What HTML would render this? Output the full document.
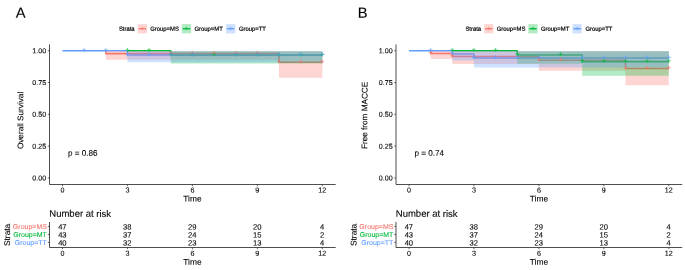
<!DOCTYPE html>
<html lang="en">
<head>
<meta charset="utf-8">
<title>Kaplan-Meier survival curves</title>
<style>
html,body{margin:0;padding:0;background:#fff;}
body{width:685px;height:270px;overflow:hidden;}
svg{display:block;font-family:'Liberation Sans', Arial, Helvetica, sans-serif;filter:blur(0.3px);}
</style>
</head>
<body>
<svg width="685" height="270" viewBox="0 0 685 270">
<rect width="685" height="270" fill="#fff"/>
<g id="panelA">
<text transform="translate(15.7 17.85) rotate(0.1)" font-size="14.7" fill="#000" stroke="#000" stroke-width="0.1">A</text>
<text transform="translate(118.9 30.8) rotate(0.1)" font-size="5.9" fill="#000" stroke="#000" stroke-width="0.2">Strata</text>
<rect x="137.7" y="24.1" width="9.3" height="9.3" fill="#F8766D" fill-opacity="0.3"/>
<path d="M138.6 28.75H146.1" stroke="#F8766D" stroke-width="1.3"/>
<path d="M140.55 28.35H144.15M142.35 26.55V30.15" stroke="#F8766D" stroke-width="0.55" fill="none"/>
<text transform="translate(150.2 30.8) rotate(0.1)" font-size="5.9" fill="#000" stroke="#000" stroke-width="0.2">Group=MS</text>
<rect x="181.8" y="24.1" width="9.3" height="9.3" fill="#00BA38" fill-opacity="0.3"/>
<path d="M182.7 28.75H190.2" stroke="#00BA38" stroke-width="1.3"/>
<path d="M184.65 28.35H188.25M186.45 26.55V30.15" stroke="#00BA38" stroke-width="0.55" fill="none"/>
<text transform="translate(194.5 30.8) rotate(0.1)" font-size="5.9" fill="#000" stroke="#000" stroke-width="0.2">Group=MT</text>
<rect x="226" y="24.1" width="9.3" height="9.3" fill="#619CFF" fill-opacity="0.3"/>
<path d="M226.9 28.75H234.4" stroke="#619CFF" stroke-width="1.3"/>
<path d="M228.85 28.35H232.45M230.65 26.55V30.15" stroke="#619CFF" stroke-width="0.55" fill="none"/>
<text transform="translate(238.9 30.8) rotate(0.1)" font-size="5.9" fill="#000" stroke="#000" stroke-width="0.2">Group=TT</text>
<path d="M105.15 50.75H105.8V53.61H279V62.19H322.3" stroke="#F8766D" stroke-width="1.55" fill="none" stroke-linejoin="round"/>
<path d="M127.45 50.75H170.75V55.26H322.3" stroke="#00BA38" stroke-width="1.55" fill="none" stroke-linejoin="round"/>
<path d="M62.5 50.75H127.45V55.01H322.3" stroke="#619CFF" stroke-width="1.55" fill="none" stroke-linejoin="round"/>
<path d="M105.8 51.35H322.3V77.8H279V59.74H105.8Z" fill="#F8766D" fill-opacity="0.3"/>
<path d="M170.75 51.35H322.3V63.43H170.75Z" fill="#00BA38" fill-opacity="0.3"/>
<path d="M127.45 51.35H322.3V62.16H127.45Z" fill="#619CFF" fill-opacity="0.3"/>
<path d="M168.75 52.81H172.75M170.75 50.81V54.81" stroke="#F8766D" stroke-width="0.62" fill="none"/>
<path d="M190.4 52.81H194.4M192.4 50.81V54.81" stroke="#F8766D" stroke-width="0.62" fill="none"/>
<path d="M212.05 52.81H216.05M214.05 50.81V54.81" stroke="#F8766D" stroke-width="0.62" fill="none"/>
<path d="M233.7 52.81H237.7M235.7 50.81V54.81" stroke="#F8766D" stroke-width="0.62" fill="none"/>
<path d="M255.35 52.81H259.35M257.35 50.81V54.81" stroke="#F8766D" stroke-width="0.62" fill="none"/>
<path d="M277 61.39H281M279 59.39V63.39" stroke="#F8766D" stroke-width="0.62" fill="none"/>
<path d="M298.65 61.39H302.65M300.65 59.39V63.39" stroke="#F8766D" stroke-width="0.62" fill="none"/>
<path d="M320.3 61.39H324.3M322.3 59.39V63.39" stroke="#F8766D" stroke-width="0.62" fill="none"/>
<path d="M125.45 49.95H129.45M127.45 47.95V51.95" stroke="#00BA38" stroke-width="0.62" fill="none"/>
<path d="M147.1 49.95H151.1M149.1 47.95V51.95" stroke="#00BA38" stroke-width="0.62" fill="none"/>
<path d="M168.75 54.46H172.75M170.75 52.46V56.46" stroke="#00BA38" stroke-width="0.62" fill="none"/>
<path d="M190.4 54.46H194.4M192.4 52.46V56.46" stroke="#00BA38" stroke-width="0.62" fill="none"/>
<path d="M212.05 54.46H216.05M214.05 52.46V56.46" stroke="#00BA38" stroke-width="0.62" fill="none"/>
<path d="M233.7 54.46H237.7M235.7 52.46V56.46" stroke="#00BA38" stroke-width="0.62" fill="none"/>
<path d="M255.35 54.46H259.35M257.35 52.46V56.46" stroke="#00BA38" stroke-width="0.62" fill="none"/>
<path d="M277 54.46H281M279 52.46V56.46" stroke="#00BA38" stroke-width="0.62" fill="none"/>
<path d="M298.65 54.46H302.65M300.65 52.46V56.46" stroke="#00BA38" stroke-width="0.62" fill="none"/>
<path d="M320.3 54.46H324.3M322.3 52.46V56.46" stroke="#00BA38" stroke-width="0.62" fill="none"/>
<path d="M82.15 49.95H86.15M84.15 47.95V51.95" stroke="#619CFF" stroke-width="0.62" fill="none"/>
<path d="M103.8 49.95H107.8M105.8 47.95V51.95" stroke="#619CFF" stroke-width="0.62" fill="none"/>
<path d="M125.45 54.21H129.45M127.45 52.21V56.21" stroke="#619CFF" stroke-width="0.62" fill="none"/>
<path d="M147.1 54.21H151.1M149.1 52.21V56.21" stroke="#619CFF" stroke-width="0.62" fill="none"/>
<path d="M168.75 54.21H172.75M170.75 52.21V56.21" stroke="#619CFF" stroke-width="0.62" fill="none"/>
<path d="M190.4 54.21H194.4M192.4 52.21V56.21" stroke="#619CFF" stroke-width="0.62" fill="none"/>
<path d="M233.7 54.21H237.7M235.7 52.21V56.21" stroke="#619CFF" stroke-width="0.62" fill="none"/>
<path d="M255.35 54.21H259.35M257.35 52.21V56.21" stroke="#619CFF" stroke-width="0.62" fill="none"/>
<path d="M277 54.21H281M279 52.21V56.21" stroke="#619CFF" stroke-width="0.62" fill="none"/>
<path d="M298.65 54.21H302.65M300.65 52.21V56.21" stroke="#619CFF" stroke-width="0.62" fill="none"/>
<path d="M320.3 54.21H324.3M322.3 52.21V56.21" stroke="#619CFF" stroke-width="0.62" fill="none"/>
<path d="M49.5 44.9V184.5H335.2" stroke="#222" stroke-width="0.8" fill="none" stroke-linecap="square"/>
<path d="M47.8 177.9H49.5" stroke="#333" stroke-width="0.75"/>
<text transform="translate(46.2 180.45) rotate(0.1)" font-size="7.15" fill="#000" text-anchor="end" stroke="#000" stroke-width="0.1">0.00</text>
<path d="M47.8 146.11H49.5" stroke="#333" stroke-width="0.75"/>
<text transform="translate(46.2 148.66) rotate(0.1)" font-size="7.15" fill="#000" text-anchor="end" stroke="#000" stroke-width="0.1">0.25</text>
<path d="M47.8 114.33H49.5" stroke="#333" stroke-width="0.75"/>
<text transform="translate(46.2 116.88) rotate(0.1)" font-size="7.15" fill="#000" text-anchor="end" stroke="#000" stroke-width="0.1">0.50</text>
<path d="M47.8 82.54H49.5" stroke="#333" stroke-width="0.75"/>
<text transform="translate(46.2 85.09) rotate(0.1)" font-size="7.15" fill="#000" text-anchor="end" stroke="#000" stroke-width="0.1">0.75</text>
<path d="M47.8 50.75H49.5" stroke="#333" stroke-width="0.75"/>
<text transform="translate(46.2 53.3) rotate(0.1)" font-size="7.15" fill="#000" text-anchor="end" stroke="#000" stroke-width="0.1">1.00</text>
<path d="M62.5 184.5V186.2" stroke="#333" stroke-width="0.75"/>
<text transform="translate(62.5 192.5) rotate(0.1)" font-size="7.15" fill="#000" text-anchor="middle" stroke="#000" stroke-width="0.1">0</text>
<path d="M127.45 184.5V186.2" stroke="#333" stroke-width="0.75"/>
<text transform="translate(127.45 192.5) rotate(0.1)" font-size="7.15" fill="#000" text-anchor="middle" stroke="#000" stroke-width="0.1">3</text>
<path d="M192.4 184.5V186.2" stroke="#333" stroke-width="0.75"/>
<text transform="translate(192.4 192.5) rotate(0.1)" font-size="7.15" fill="#000" text-anchor="middle" stroke="#000" stroke-width="0.1">6</text>
<path d="M257.35 184.5V186.2" stroke="#333" stroke-width="0.75"/>
<text transform="translate(257.35 192.5) rotate(0.1)" font-size="7.15" fill="#000" text-anchor="middle" stroke="#000" stroke-width="0.1">9</text>
<path d="M322.3 184.5V186.2" stroke="#333" stroke-width="0.75"/>
<text transform="translate(322.3 192.5) rotate(0.1)" font-size="7.15" fill="#000" text-anchor="middle" stroke="#000" stroke-width="0.1">12</text>
<text transform="translate(192.4 201.6) rotate(0.1)" font-size="8.4" fill="#000" text-anchor="middle" stroke="#000" stroke-width="0.1">Time</text>
<text transform="translate(23.15 149.1) rotate(-89.9)" font-size="8.2" fill="#000" stroke="#000" stroke-width="0.1">Overall Survival</text>
<text transform="translate(67.9 155.7) rotate(0.1)" font-size="8.15" fill="#000" stroke="#000" stroke-width="0.1">p = 0.86</text>
<text transform="translate(49.3 216.8) rotate(0.1)" font-size="9.5" fill="#000" stroke="#000" stroke-width="0.1">Number at risk</text>
<path d="M49.5 222.5V247.5H335.2" stroke="#222" stroke-width="0.8" fill="none" stroke-linecap="square"/>
<path d="M47.8 226.4H49.5" stroke="#333" stroke-width="0.75"/>
<text transform="translate(46.9 229) rotate(0.1)" font-size="7.0" fill="#F8766D" text-anchor="end" stroke="#F8766D" stroke-width="0.1">Group=MS</text>
<text transform="translate(62.35 229.5) rotate(0.1)" font-size="7.6" fill="#000" text-anchor="middle" stroke="#000" stroke-width="0.1">47</text>
<text transform="translate(127.3 229.5) rotate(0.1)" font-size="7.6" fill="#000" text-anchor="middle" stroke="#000" stroke-width="0.1">38</text>
<text transform="translate(192.25 229.5) rotate(0.1)" font-size="7.6" fill="#000" text-anchor="middle" stroke="#000" stroke-width="0.1">29</text>
<text transform="translate(257.2 229.5) rotate(0.1)" font-size="7.6" fill="#000" text-anchor="middle" stroke="#000" stroke-width="0.1">20</text>
<text transform="translate(322.15 229.5) rotate(0.1)" font-size="7.6" fill="#000" text-anchor="middle" stroke="#000" stroke-width="0.1">4</text>
<path d="M47.8 234.4H49.5" stroke="#333" stroke-width="0.75"/>
<text transform="translate(46.9 237) rotate(0.1)" font-size="7.0" fill="#00BA38" text-anchor="end" stroke="#00BA38" stroke-width="0.1">Group=MT</text>
<text transform="translate(62.35 237.5) rotate(0.1)" font-size="7.6" fill="#000" text-anchor="middle" stroke="#000" stroke-width="0.1">43</text>
<text transform="translate(127.3 237.5) rotate(0.1)" font-size="7.6" fill="#000" text-anchor="middle" stroke="#000" stroke-width="0.1">37</text>
<text transform="translate(192.25 237.5) rotate(0.1)" font-size="7.6" fill="#000" text-anchor="middle" stroke="#000" stroke-width="0.1">24</text>
<text transform="translate(257.2 237.5) rotate(0.1)" font-size="7.6" fill="#000" text-anchor="middle" stroke="#000" stroke-width="0.1">15</text>
<text transform="translate(322.15 237.5) rotate(0.1)" font-size="7.6" fill="#000" text-anchor="middle" stroke="#000" stroke-width="0.1">2</text>
<path d="M47.8 242.4H49.5" stroke="#333" stroke-width="0.75"/>
<text transform="translate(46.9 245) rotate(0.1)" font-size="7.0" fill="#619CFF" text-anchor="end" stroke="#619CFF" stroke-width="0.1">Group=TT</text>
<text transform="translate(62.35 245.5) rotate(0.1)" font-size="7.6" fill="#000" text-anchor="middle" stroke="#000" stroke-width="0.1">40</text>
<text transform="translate(127.3 245.5) rotate(0.1)" font-size="7.6" fill="#000" text-anchor="middle" stroke="#000" stroke-width="0.1">32</text>
<text transform="translate(192.25 245.5) rotate(0.1)" font-size="7.6" fill="#000" text-anchor="middle" stroke="#000" stroke-width="0.1">23</text>
<text transform="translate(257.2 245.5) rotate(0.1)" font-size="7.6" fill="#000" text-anchor="middle" stroke="#000" stroke-width="0.1">13</text>
<text transform="translate(322.15 245.5) rotate(0.1)" font-size="7.6" fill="#000" text-anchor="middle" stroke="#000" stroke-width="0.1">4</text>
<path d="M62.5 247.5V249.2" stroke="#333" stroke-width="0.75"/>
<text transform="translate(62.5 255.7) rotate(0.1)" font-size="7.15" fill="#000" text-anchor="middle" stroke="#000" stroke-width="0.1">0</text>
<path d="M127.45 247.5V249.2" stroke="#333" stroke-width="0.75"/>
<text transform="translate(127.45 255.7) rotate(0.1)" font-size="7.15" fill="#000" text-anchor="middle" stroke="#000" stroke-width="0.1">3</text>
<path d="M192.4 247.5V249.2" stroke="#333" stroke-width="0.75"/>
<text transform="translate(192.4 255.7) rotate(0.1)" font-size="7.15" fill="#000" text-anchor="middle" stroke="#000" stroke-width="0.1">6</text>
<path d="M257.35 247.5V249.2" stroke="#333" stroke-width="0.75"/>
<text transform="translate(257.35 255.7) rotate(0.1)" font-size="7.15" fill="#000" text-anchor="middle" stroke="#000" stroke-width="0.1">9</text>
<path d="M322.3 247.5V249.2" stroke="#333" stroke-width="0.75"/>
<text transform="translate(322.3 255.7) rotate(0.1)" font-size="7.15" fill="#000" text-anchor="middle" stroke="#000" stroke-width="0.1">12</text>
<text transform="translate(192.4 264.8) rotate(0.1)" font-size="8.4" fill="#000" text-anchor="middle" stroke="#000" stroke-width="0.1">Time</text>
<text transform="translate(9.9 234.9) rotate(-89.9)" font-size="8.4" fill="#000" text-anchor="middle" stroke="#000" stroke-width="0.1">Strata</text>
</g>
<g id="panelB">
<text transform="translate(357.8 17.85) rotate(0.1)" font-size="14.7" fill="#000" stroke="#000" stroke-width="0.1">B</text>
<text transform="translate(465.4 30.8) rotate(0.1)" font-size="5.9" fill="#000" stroke="#000" stroke-width="0.2">Strata</text>
<rect x="484.2" y="24.1" width="9.3" height="9.3" fill="#F8766D" fill-opacity="0.3"/>
<path d="M485.1 28.75H492.6" stroke="#F8766D" stroke-width="1.3"/>
<path d="M487.05 28.35H490.65M488.85 26.55V30.15" stroke="#F8766D" stroke-width="0.55" fill="none"/>
<text transform="translate(496.7 30.8) rotate(0.1)" font-size="5.9" fill="#000" stroke="#000" stroke-width="0.2">Group=MS</text>
<rect x="528.3" y="24.1" width="9.3" height="9.3" fill="#00BA38" fill-opacity="0.3"/>
<path d="M529.2 28.75H536.7" stroke="#00BA38" stroke-width="1.3"/>
<path d="M531.15 28.35H534.75M532.95 26.55V30.15" stroke="#00BA38" stroke-width="0.55" fill="none"/>
<text transform="translate(541 30.8) rotate(0.1)" font-size="5.9" fill="#000" stroke="#000" stroke-width="0.2">Group=MT</text>
<rect x="572.5" y="24.1" width="9.3" height="9.3" fill="#619CFF" fill-opacity="0.3"/>
<path d="M573.4 28.75H580.9" stroke="#619CFF" stroke-width="1.3"/>
<path d="M575.35 28.35H578.95M577.15 26.55V30.15" stroke="#619CFF" stroke-width="0.55" fill="none"/>
<text transform="translate(585.4 30.8) rotate(0.1)" font-size="5.9" fill="#000" stroke="#000" stroke-width="0.2">Group=TT</text>
<path d="M430 50.75H430.65V53.42H452.3V56.47H538.9V60.16H625.5V68.49H668.8" stroke="#F8766D" stroke-width="1.55" fill="none" stroke-linejoin="round"/>
<path d="M452.3 50.75H517.25V54.95H582.2V61.62H668.8" stroke="#00BA38" stroke-width="1.55" fill="none" stroke-linejoin="round"/>
<path d="M409 50.75H452.3V53.93H473.95V58.06H668.8" stroke="#619CFF" stroke-width="1.55" fill="none" stroke-linejoin="round"/>
<path d="M430.65 51.35H668.8V85.3H625.5V70.68H538.9V64.06H452.3V58.98H430.65Z" fill="#F8766D" fill-opacity="0.3"/>
<path d="M517.25 51.35H668.8V75.64H582.2V63.68H517.25Z" fill="#00BA38" fill-opacity="0.3"/>
<path d="M452.3 51.35H668.8V67.5H473.95V60.5H452.3Z" fill="#619CFF" fill-opacity="0.3"/>
<path d="M428.65 52.62H432.65M430.65 50.62V54.62" stroke="#F8766D" stroke-width="0.62" fill="none"/>
<path d="M450.3 55.67H454.3M452.3 53.67V57.67" stroke="#F8766D" stroke-width="0.62" fill="none"/>
<path d="M536.9 59.36H540.9M538.9 57.36V61.36" stroke="#F8766D" stroke-width="0.62" fill="none"/>
<path d="M558.55 59.36H562.55M560.55 57.36V61.36" stroke="#F8766D" stroke-width="0.62" fill="none"/>
<path d="M623.5 67.69H627.5M625.5 65.69V69.69" stroke="#F8766D" stroke-width="0.62" fill="none"/>
<path d="M645.15 67.69H649.15M647.15 65.69V69.69" stroke="#F8766D" stroke-width="0.62" fill="none"/>
<path d="M666.8 67.69H670.8M668.8 65.69V69.69" stroke="#F8766D" stroke-width="0.62" fill="none"/>
<path d="M450.3 49.95H454.3M452.3 47.95V51.95" stroke="#00BA38" stroke-width="0.62" fill="none"/>
<path d="M471.95 49.95H475.95M473.95 47.95V51.95" stroke="#00BA38" stroke-width="0.62" fill="none"/>
<path d="M493.6 49.95H497.6M495.6 47.95V51.95" stroke="#00BA38" stroke-width="0.62" fill="none"/>
<path d="M515.25 54.15H519.25M517.25 52.15V56.15" stroke="#00BA38" stroke-width="0.62" fill="none"/>
<path d="M558.55 54.15H562.55M560.55 52.15V56.15" stroke="#00BA38" stroke-width="0.62" fill="none"/>
<path d="M580.2 60.82H584.2M582.2 58.82V62.82" stroke="#00BA38" stroke-width="0.62" fill="none"/>
<path d="M601.85 60.82H605.85M603.85 58.82V62.82" stroke="#00BA38" stroke-width="0.62" fill="none"/>
<path d="M623.5 60.82H627.5M625.5 58.82V62.82" stroke="#00BA38" stroke-width="0.62" fill="none"/>
<path d="M645.15 60.82H649.15M647.15 58.82V62.82" stroke="#00BA38" stroke-width="0.62" fill="none"/>
<path d="M666.8 60.82H670.8M668.8 58.82V62.82" stroke="#00BA38" stroke-width="0.62" fill="none"/>
<path d="M428.65 49.95H432.65M430.65 47.95V51.95" stroke="#619CFF" stroke-width="0.62" fill="none"/>
<path d="M450.3 53.13H454.3M452.3 51.13V55.13" stroke="#619CFF" stroke-width="0.62" fill="none"/>
<path d="M471.95 57.26H475.95M473.95 55.26V59.26" stroke="#619CFF" stroke-width="0.62" fill="none"/>
<path d="M493.6 57.26H497.6M495.6 55.26V59.26" stroke="#619CFF" stroke-width="0.62" fill="none"/>
<path d="M515.25 57.26H519.25M517.25 55.26V59.26" stroke="#619CFF" stroke-width="0.62" fill="none"/>
<path d="M536.9 57.26H540.9M538.9 55.26V59.26" stroke="#619CFF" stroke-width="0.62" fill="none"/>
<path d="M580.2 57.26H584.2M582.2 55.26V59.26" stroke="#619CFF" stroke-width="0.62" fill="none"/>
<path d="M601.85 57.26H605.85M603.85 55.26V59.26" stroke="#619CFF" stroke-width="0.62" fill="none"/>
<path d="M623.5 57.26H627.5M625.5 55.26V59.26" stroke="#619CFF" stroke-width="0.62" fill="none"/>
<path d="M645.15 57.26H649.15M647.15 55.26V59.26" stroke="#619CFF" stroke-width="0.62" fill="none"/>
<path d="M666.8 57.26H670.8M668.8 55.26V59.26" stroke="#619CFF" stroke-width="0.62" fill="none"/>
<path d="M396 44.9V184.5H681.7" stroke="#222" stroke-width="0.8" fill="none" stroke-linecap="square"/>
<path d="M394.3 177.9H396" stroke="#333" stroke-width="0.75"/>
<text transform="translate(392.7 180.45) rotate(0.1)" font-size="7.15" fill="#000" text-anchor="end" stroke="#000" stroke-width="0.1">0.00</text>
<path d="M394.3 146.11H396" stroke="#333" stroke-width="0.75"/>
<text transform="translate(392.7 148.66) rotate(0.1)" font-size="7.15" fill="#000" text-anchor="end" stroke="#000" stroke-width="0.1">0.25</text>
<path d="M394.3 114.33H396" stroke="#333" stroke-width="0.75"/>
<text transform="translate(392.7 116.88) rotate(0.1)" font-size="7.15" fill="#000" text-anchor="end" stroke="#000" stroke-width="0.1">0.50</text>
<path d="M394.3 82.54H396" stroke="#333" stroke-width="0.75"/>
<text transform="translate(392.7 85.09) rotate(0.1)" font-size="7.15" fill="#000" text-anchor="end" stroke="#000" stroke-width="0.1">0.75</text>
<path d="M394.3 50.75H396" stroke="#333" stroke-width="0.75"/>
<text transform="translate(392.7 53.3) rotate(0.1)" font-size="7.15" fill="#000" text-anchor="end" stroke="#000" stroke-width="0.1">1.00</text>
<path d="M409 184.5V186.2" stroke="#333" stroke-width="0.75"/>
<text transform="translate(409 192.5) rotate(0.1)" font-size="7.15" fill="#000" text-anchor="middle" stroke="#000" stroke-width="0.1">0</text>
<path d="M473.95 184.5V186.2" stroke="#333" stroke-width="0.75"/>
<text transform="translate(473.95 192.5) rotate(0.1)" font-size="7.15" fill="#000" text-anchor="middle" stroke="#000" stroke-width="0.1">3</text>
<path d="M538.9 184.5V186.2" stroke="#333" stroke-width="0.75"/>
<text transform="translate(538.9 192.5) rotate(0.1)" font-size="7.15" fill="#000" text-anchor="middle" stroke="#000" stroke-width="0.1">6</text>
<path d="M603.85 184.5V186.2" stroke="#333" stroke-width="0.75"/>
<text transform="translate(603.85 192.5) rotate(0.1)" font-size="7.15" fill="#000" text-anchor="middle" stroke="#000" stroke-width="0.1">9</text>
<path d="M668.8 184.5V186.2" stroke="#333" stroke-width="0.75"/>
<text transform="translate(668.8 192.5) rotate(0.1)" font-size="7.15" fill="#000" text-anchor="middle" stroke="#000" stroke-width="0.1">12</text>
<text transform="translate(538.9 201.6) rotate(0.1)" font-size="8.4" fill="#000" text-anchor="middle" stroke="#000" stroke-width="0.1">Time</text>
<text transform="translate(367.3 149.1) rotate(-89.9)" font-size="8.2" fill="#000" stroke="#000" stroke-width="0.1">Free from MACCE</text>
<text transform="translate(414.4 155.7) rotate(0.1)" font-size="8.15" fill="#000" stroke="#000" stroke-width="0.1">p = 0.74</text>
<text transform="translate(395.8 216.8) rotate(0.1)" font-size="9.5" fill="#000" stroke="#000" stroke-width="0.1">Number at risk</text>
<path d="M396 222.5V247.5H681.7" stroke="#222" stroke-width="0.8" fill="none" stroke-linecap="square"/>
<path d="M394.3 226.4H396" stroke="#333" stroke-width="0.75"/>
<text transform="translate(393.4 229) rotate(0.1)" font-size="7.0" fill="#F8766D" text-anchor="end" stroke="#F8766D" stroke-width="0.1">Group=MS</text>
<text transform="translate(408.85 229.5) rotate(0.1)" font-size="7.6" fill="#000" text-anchor="middle" stroke="#000" stroke-width="0.1">47</text>
<text transform="translate(473.8 229.5) rotate(0.1)" font-size="7.6" fill="#000" text-anchor="middle" stroke="#000" stroke-width="0.1">38</text>
<text transform="translate(538.75 229.5) rotate(0.1)" font-size="7.6" fill="#000" text-anchor="middle" stroke="#000" stroke-width="0.1">29</text>
<text transform="translate(603.7 229.5) rotate(0.1)" font-size="7.6" fill="#000" text-anchor="middle" stroke="#000" stroke-width="0.1">20</text>
<text transform="translate(668.65 229.5) rotate(0.1)" font-size="7.6" fill="#000" text-anchor="middle" stroke="#000" stroke-width="0.1">4</text>
<path d="M394.3 234.4H396" stroke="#333" stroke-width="0.75"/>
<text transform="translate(393.4 237) rotate(0.1)" font-size="7.0" fill="#00BA38" text-anchor="end" stroke="#00BA38" stroke-width="0.1">Group=MT</text>
<text transform="translate(408.85 237.5) rotate(0.1)" font-size="7.6" fill="#000" text-anchor="middle" stroke="#000" stroke-width="0.1">43</text>
<text transform="translate(473.8 237.5) rotate(0.1)" font-size="7.6" fill="#000" text-anchor="middle" stroke="#000" stroke-width="0.1">37</text>
<text transform="translate(538.75 237.5) rotate(0.1)" font-size="7.6" fill="#000" text-anchor="middle" stroke="#000" stroke-width="0.1">24</text>
<text transform="translate(603.7 237.5) rotate(0.1)" font-size="7.6" fill="#000" text-anchor="middle" stroke="#000" stroke-width="0.1">15</text>
<text transform="translate(668.65 237.5) rotate(0.1)" font-size="7.6" fill="#000" text-anchor="middle" stroke="#000" stroke-width="0.1">2</text>
<path d="M394.3 242.4H396" stroke="#333" stroke-width="0.75"/>
<text transform="translate(393.4 245) rotate(0.1)" font-size="7.0" fill="#619CFF" text-anchor="end" stroke="#619CFF" stroke-width="0.1">Group=TT</text>
<text transform="translate(408.85 245.5) rotate(0.1)" font-size="7.6" fill="#000" text-anchor="middle" stroke="#000" stroke-width="0.1">40</text>
<text transform="translate(473.8 245.5) rotate(0.1)" font-size="7.6" fill="#000" text-anchor="middle" stroke="#000" stroke-width="0.1">32</text>
<text transform="translate(538.75 245.5) rotate(0.1)" font-size="7.6" fill="#000" text-anchor="middle" stroke="#000" stroke-width="0.1">23</text>
<text transform="translate(603.7 245.5) rotate(0.1)" font-size="7.6" fill="#000" text-anchor="middle" stroke="#000" stroke-width="0.1">13</text>
<text transform="translate(668.65 245.5) rotate(0.1)" font-size="7.6" fill="#000" text-anchor="middle" stroke="#000" stroke-width="0.1">4</text>
<path d="M409 247.5V249.2" stroke="#333" stroke-width="0.75"/>
<text transform="translate(409 255.7) rotate(0.1)" font-size="7.15" fill="#000" text-anchor="middle" stroke="#000" stroke-width="0.1">0</text>
<path d="M473.95 247.5V249.2" stroke="#333" stroke-width="0.75"/>
<text transform="translate(473.95 255.7) rotate(0.1)" font-size="7.15" fill="#000" text-anchor="middle" stroke="#000" stroke-width="0.1">3</text>
<path d="M538.9 247.5V249.2" stroke="#333" stroke-width="0.75"/>
<text transform="translate(538.9 255.7) rotate(0.1)" font-size="7.15" fill="#000" text-anchor="middle" stroke="#000" stroke-width="0.1">6</text>
<path d="M603.85 247.5V249.2" stroke="#333" stroke-width="0.75"/>
<text transform="translate(603.85 255.7) rotate(0.1)" font-size="7.15" fill="#000" text-anchor="middle" stroke="#000" stroke-width="0.1">9</text>
<path d="M668.8 247.5V249.2" stroke="#333" stroke-width="0.75"/>
<text transform="translate(668.8 255.7) rotate(0.1)" font-size="7.15" fill="#000" text-anchor="middle" stroke="#000" stroke-width="0.1">12</text>
<text transform="translate(538.9 264.8) rotate(0.1)" font-size="8.4" fill="#000" text-anchor="middle" stroke="#000" stroke-width="0.1">Time</text>
<text transform="translate(356.4 234.9) rotate(-89.9)" font-size="8.4" fill="#000" text-anchor="middle" stroke="#000" stroke-width="0.1">Strata</text>
</g>
</svg>
</body>
</html>
